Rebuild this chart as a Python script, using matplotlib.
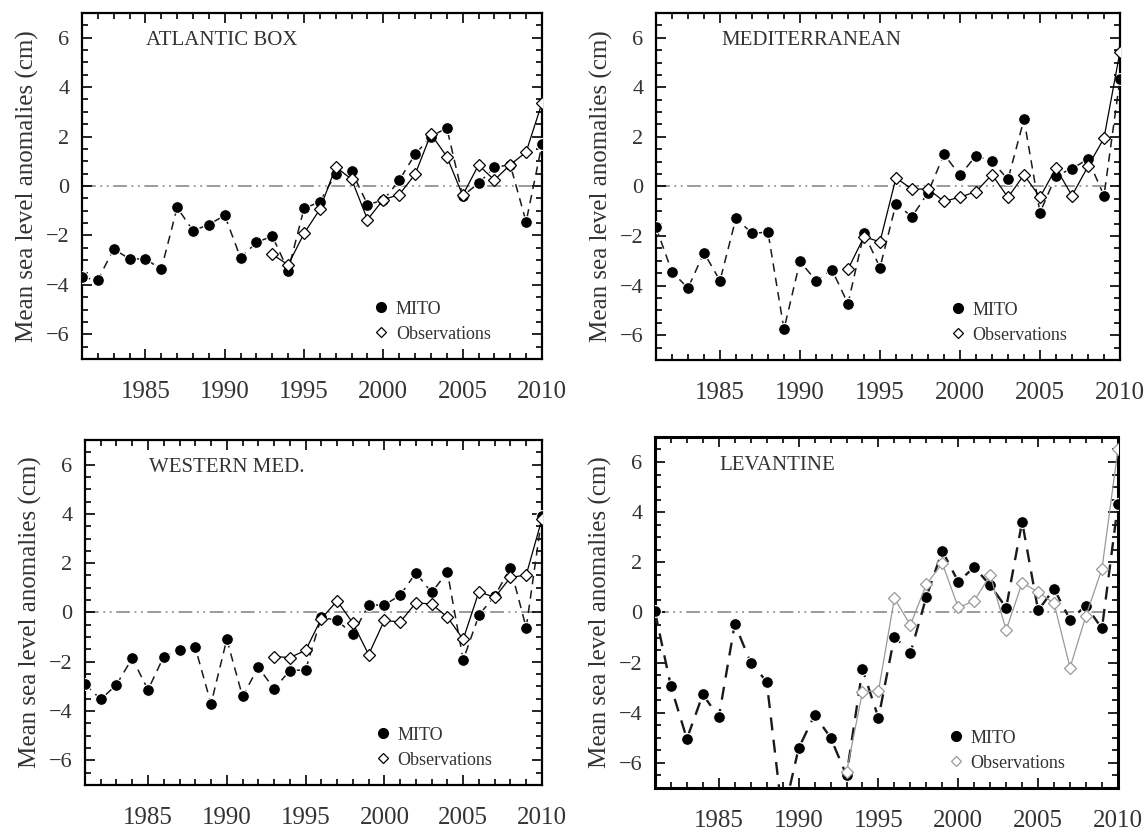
import numpy as np
import matplotlib
matplotlib.use("Agg")
import matplotlib.pyplot as plt
from matplotlib.lines import Line2D
from matplotlib.ticker import MultipleLocator

plt.rcParams['font.family'] = ['Liberation Serif', 'DejaVu Serif']

years = np.arange(1981, 2011)
obs_years = np.arange(1993, 2011)

# MITO model anomalies (cm), 1981-2010
atl_mito = [-3.70, -3.80, -2.55, -2.95, -2.95, -3.37, -0.87, -1.81, -1.56, -1.19,
            -2.91, -2.28, -2.03, -3.42, -0.91, -0.64, 0.50, 0.60, -0.75, -0.58,
            0.23, 1.28, 2.00, 2.35, -0.40, 0.11, 0.75, 0.86, -1.45, 1.68]
med_mito = [-1.64, -3.44, -4.10, -2.67, -3.80, -1.28, -1.89, -1.84, -5.76, -3.02,
            -3.80, -3.36, -4.73, -1.88, -3.27, -0.70, -1.22, -0.25, 1.30, 0.45,
            1.24, 1.01, 0.29, 2.71, -1.05, 0.43, 0.72, 1.10, -0.37, 4.34]
wmed_mito = [-2.90, -3.53, -2.93, -1.86, -3.14, -1.79, -1.51, -1.42, -3.71, -1.09,
             -3.41, -2.22, -3.10, -2.36, -2.33, -0.20, -0.32, -0.89, 0.30, 0.30,
             0.70, 1.60, 0.81, 1.64, -1.93, -0.11, 0.67, 1.81, -0.62, 3.92]
lev_mito = [0.04, -2.95, -5.04, -3.27, -4.18, -0.46, -2.00, -2.76, -8.20, -5.42,
            -4.09, -4.99, -6.50, -2.26, -4.21, -0.96, -1.62, 0.62, 2.46, 1.22,
            1.81, 1.08, 0.19, 3.62, 0.08, 0.94, -0.29, 0.27, -0.64, 4.31]

# Observations (cm), 1993-2010
atl_obs = [-2.77, -3.19, -1.92, -0.94, 0.77, 0.27, -1.36, -0.55, -0.35, 0.47,
           2.10, 1.19, -0.38, 0.85, 0.24, 0.86, 1.37, 3.36]
med_obs = [-3.34, -2.03, -2.23, 0.35, -0.11, -0.10, -0.60, -0.43, -0.21, 0.48,
           -0.44, 0.47, -0.43, 0.74, -0.37, 0.81, 1.95, 5.44]
wmed_obs = [-1.79, -1.83, -1.54, -0.25, 0.47, -0.43, -1.71, -0.32, -0.39, 0.39,
            0.34, -0.19, -1.09, 0.84, 0.61, 1.42, 1.52, 3.80]
lev_obs = [-6.37, -3.16, -3.13, 0.56, -0.50, 1.12, 1.96, 0.20, 0.46, 1.49,
           -0.70, 1.18, 0.82, 0.36, -2.20, -0.13, 1.74, 6.50]

# name, model, obs, obs colour, model line width, spine width, axes rect
panels = [
    ("ATLANTIC BOX", atl_mito, atl_obs, 'black', 1.1, 1.6, [0.0714, 0.5695, 0.4007, 0.4150]),
    ("MEDITERRANEAN", med_mito, med_obs, 'black', 1.1, 1.6, [0.5714, 0.5683, 0.4042, 0.4162]),
    ("WESTERN MED.", wmed_mito, wmed_obs, 'black', 1.1, 1.6, [0.0740, 0.0588, 0.3981, 0.4137]),
    ("LEVANTINE", lev_mito, lev_obs, '#999999', 1.7, 2.2, [0.5705, 0.0552, 0.4033, 0.4209]),
]

fig = plt.figure(figsize=(11.48, 8.34), dpi=100)
txt = '#333333'

for name, mito, obs, ocol, mlw, slw, pos in panels:
    ax = fig.add_axes(pos)
    ax.plot([1981, 2010], [0, 0], color='#808080', lw=1.1,
            ls=(0, (9, 3, 1.2, 3, 1.2, 3)), zorder=1)
    ax.plot(years, mito, color='#1a1a1a', lw=mlw, ls=(0, (5.5, 4)),
            marker='o', ms=8.5, mfc='black', mec='white', mew=0.8, zorder=3)
    ax.plot(obs_years, obs, color=ocol, lw=0.9, ls='-',
            marker='D', ms=6.5, mfc='white', mec=ocol, mew=0.9, zorder=4)

    ax.set_xlim(1981, 2010)
    ax.set_ylim(-7, 7)
    ax.xaxis.set_major_locator(MultipleLocator(5))
    ax.xaxis.set_minor_locator(MultipleLocator(1))
    ax.yaxis.set_major_locator(MultipleLocator(2))
    ax.yaxis.set_minor_locator(MultipleLocator(0.5))
    ax.tick_params(which='both', direction='in', top=True, right=True, width=1.2,
                   colors='black')
    ax.tick_params(which='major', length=7)
    ax.tick_params(which='minor', length=4)
    ax.tick_params(axis='x', which='major', labelsize=18, pad=16, labelcolor=txt)
    ax.tick_params(axis='y', which='major', labelsize=16, pad=9, labelcolor=txt)
    for s in ax.spines.values():
        s.set_linewidth(slw)
    ax.set_ylabel("Mean sea level anomalies (cm)", fontsize=18, color=txt, labelpad=5)

    ax.text(0.14, 0.92, name, transform=ax.transAxes, fontsize=15, color=txt,
            ha='left', va='center')

    handles = [Line2D([], [], ls='none', marker='o', ms=7, mfc='black', mec='black'),
               Line2D([], [], ls='none', marker='D', ms=5.5, mfc='white', mec=ocol, mew=0.9)]
    ax.legend(handles, ["MITO", "Observations"], loc='lower left',
              bbox_to_anchor=(0.60, 0.0), frameon=False, fontsize=13,
              handlelength=0.8, handletextpad=0.4, labelspacing=0.45,
              labelcolor=txt)

fig.savefig("out.png", dpi=100, facecolor='white')
